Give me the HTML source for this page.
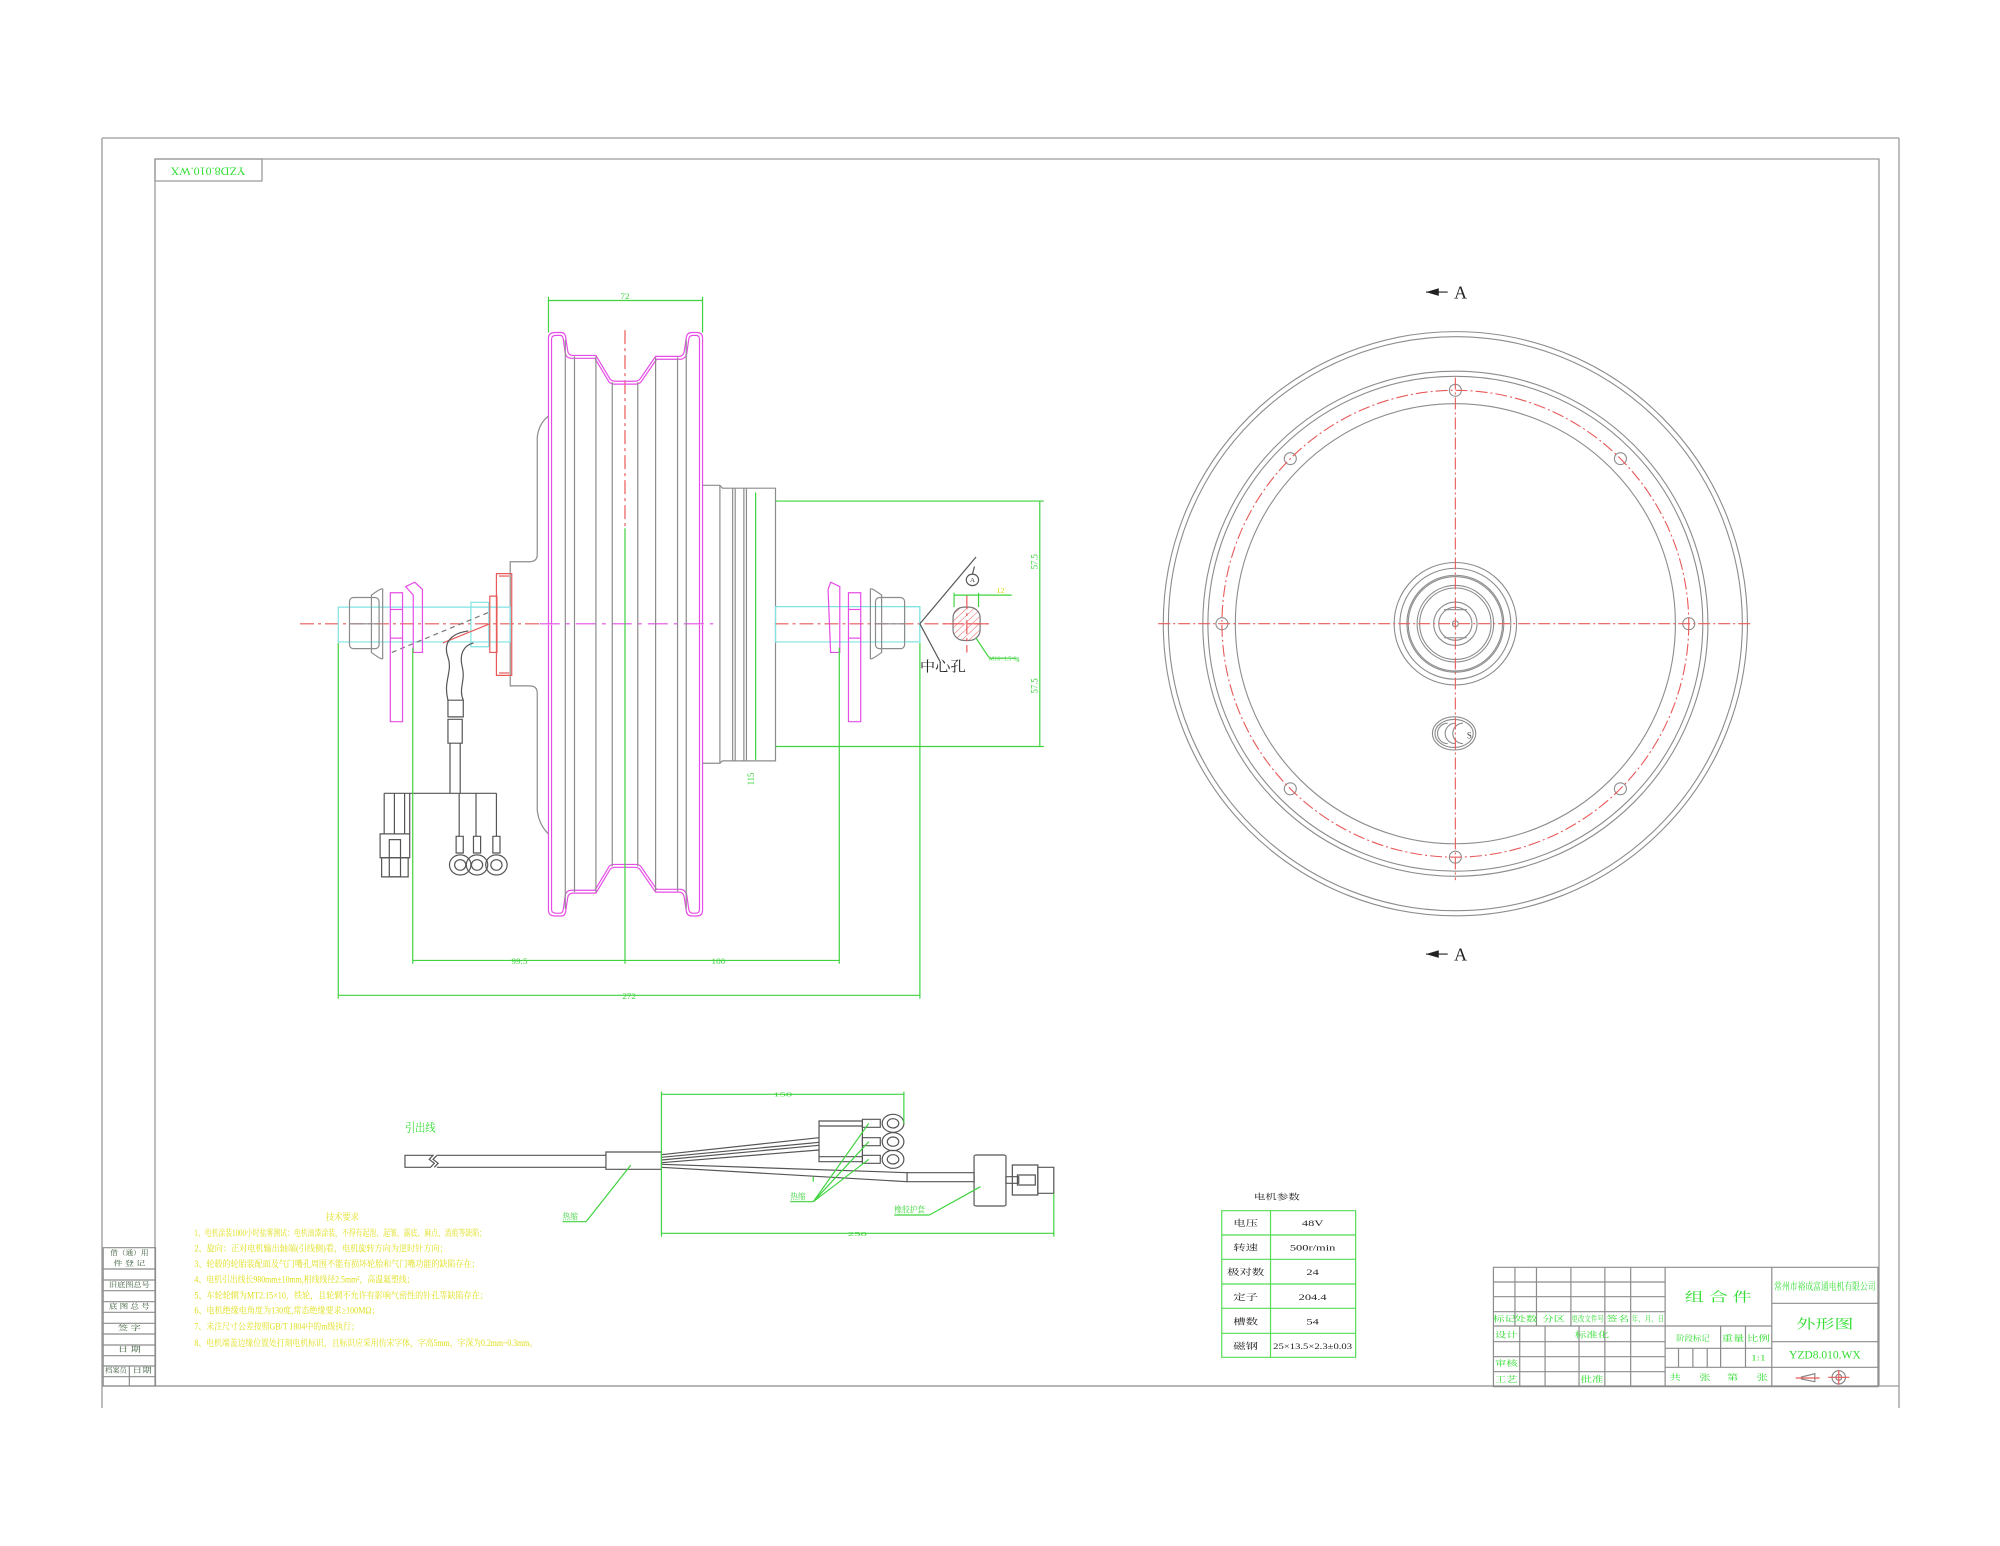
<!DOCTYPE html>
<html><head><meta charset="utf-8"><style>
html,body{margin:0;padding:0;background:#fff;}
svg{display:block;}
text{font-family:"Liberation Serif","Noto Serif CJK SC","Noto Sans CJK SC",serif;}
.g{stroke:#8c8c8c;fill:none;}
.m{stroke:#e64de6;fill:none;}
.c{stroke:#7fe3e3;fill:none;}
.d{stroke:#3fd33f;fill:none;}
.r{stroke:#e85a5a;fill:none;stroke-dasharray:14 4 3 4;}
.rs{stroke:#e85a5a;fill:none;}
.k{stroke:#555;fill:none;}
*{vector-effect:non-scaling-stroke;}
</style></head><body>
<svg width="2000" height="1546" viewBox="0 0 2000 1546" xmlns="http://www.w3.org/2000/svg">
<rect width="2000" height="1546" fill="#fff"/>
<g stroke="#9a9a9a" fill="none" stroke-width="1.3">
<line x1="102" y1="138" x2="1899" y2="138"/>
<line x1="102" y1="138" x2="102" y2="1408"/>
<line x1="1899" y1="138" x2="1899" y2="1408"/>
<line x1="102" y1="1386" x2="1899" y2="1386"/>
<rect x="155" y="159" width="1724" height="1227"/>
<rect x="155" y="159" width="107" height="22"/>
</g>
<text x="0" y="0" transform="translate(208,170) rotate(180)" font-size="12" fill="#33dd33" text-anchor="middle" dominant-baseline="middle">YZD8.010.WX</text>

<!-- LEFT VIEW -->
<g transform="translate(300,280) scale(0.5102,0.4775)" stroke-width="1.2">
<line class="r" x1="0" y1="720" x2="470" y2="720"/>
<line x1="470" y1="720" x2="810" y2="720" stroke="#e64de6" stroke-dasharray="20 6 4 6"/>
<line class="r" x1="930" y1="720" x2="1350" y2="720"/>
<line class="r" x1="637" y1="105" x2="637" y2="520"/>
<g id="rimtop">
<path class="m" d="M487,720 L487,122 Q487,110 500,110 L512,110 Q520,110 521,122 L525,150 Q527,158 535,158 L580,158 L608,208 Q612,212 618,212 L656,212 Q662,212 666,208 L697,160 L745,160 Q752,158 753,150 L757,122 Q758,110 768,110 L778,110 Q789,110 789,122 L789,720"/>
<path class="m" d="M493,720 L493,124 Q493,116 502,116 L510,116 Q515,116 516,124 L520,154 Q522,164 532,164 L578,164 L606,214 Q610,218 616,218 L658,218 Q664,218 668,214 L699,166 L747,166 Q756,164 758,154 L762,124 Q763,116 770,116 L776,116 Q783,116 783,124 L783,720"/>
</g>
<use href="#rimtop" transform="translate(0,1442) scale(1,-1)"/>
<g class="g">
<line x1="520" y1="125" x2="520" y2="1317"/>
<line x1="538" y1="160" x2="538" y2="1282"/>
<line x1="580" y1="160" x2="580" y2="1282"/>
<line x1="612" y1="214" x2="612" y2="1228"/>
<line x1="662" y1="214" x2="662" y2="1228"/>
<line x1="697" y1="162" x2="697" y2="1280"/>
<line x1="740" y1="162" x2="740" y2="1280"/>
<line x1="757" y1="125" x2="757" y2="1317"/>
<path d="M487,285 Q468,300 465,330 L465,575 Q465,590 450,590 L412,590 L412,850 L450,850 Q465,850 465,865 L465,1110 Q468,1140 487,1160"/>
<path d="M789,430 L823,430 L828,436 L932,436 L932,1007 L828,1007 L823,1012 L789,1012"/>
<line x1="823" y1="430" x2="823" y2="1012"/>
<line x1="848" y1="436" x2="848" y2="1007"/><line x1="853" y1="436" x2="853" y2="1007"/>
<line x1="870" y1="436" x2="870" y2="1007"/><line x1="875" y1="436" x2="875" y2="1007"/>
</g>
<rect class="c" x="75" y="685" width="337" height="73"/>
<rect class="c" x="335" y="675" width="35" height="93"/>
<rect class="c" x="932" y="684" width="283" height="74"/>
<rect class="c" x="1185" y="684" width="30" height="74"/>
<rect class="rs" x="385" y="615" width="30" height="213"/>
<rect class="rs" x="372" y="662" width="14" height="118"/>
<line class="rs" x1="390" y1="620" x2="410" y2="620"/><line class="rs" x1="390" y1="823" x2="410" y2="823"/>
<line x1="180" y1="780" x2="372" y2="695" stroke="#777" stroke-dasharray="5 4"/>
<line x1="280" y1="760" x2="372" y2="720" stroke="#e85a5a"/>
<rect class="g" x="97" y="665" width="58" height="107" rx="8"/>
<line class="g" x1="97" y1="720" x2="155" y2="720"/>
<path class="g" d="M140,660 Q165,640 162,650 L162,790 Q165,800 140,780 Z"/>
<rect class="m" x="177" y="655" width="24" height="270"/>
<line class="m" x1="177" y1="690" x2="201" y2="690"/><line class="m" x1="177" y1="750" x2="201" y2="750"/>
<path class="m" d="M207,642 L225,633 L240,648 L240,780 L222,780 L222,660 Z"/>
<path class="m" d="M1058,642 L1040,633 L1035,648 L1040,780 L1058,780 Z"/>
<rect class="m" x="1075" y="655" width="24" height="270"/>
<line class="m" x1="1075" y1="690" x2="1099" y2="690"/><line class="m" x1="1075" y1="750" x2="1099" y2="750"/>
<path class="g" d="M1140,660 Q1115,640 1118,650 L1118,790 Q1115,800 1140,780 Z"/>
<rect class="g" x="1128" y="665" width="57" height="107" rx="8"/>
<line class="g" x1="1128" y1="720" x2="1185" y2="720"/>
<g class="k">
<path d="M330,735 C295,740 280,760 290,790 C300,820 280,840 290,880"/>
<path d="M340,760 C320,765 312,785 318,810 C325,840 310,855 320,880"/>
<rect x="290" y="880" width="30" height="35"/>
<rect x="290" y="920" width="28" height="50"/>
<line x1="294" y1="970" x2="294" y2="1075"/><line x1="314" y1="970" x2="314" y2="1075"/>
<line x1="165" y1="1075" x2="385" y2="1075"/>
<line x1="165" y1="1075" x2="165" y2="1160"/><line x1="185" y1="1075" x2="185" y2="1160"/><line x1="205" y1="1075" x2="205" y2="1160"/><line x1="215" y1="1075" x2="215" y2="1160"/>
<rect x="157" y="1160" width="58" height="50"/>
<rect x="175" y="1172" width="22" height="78"/>
<rect x="160" y="1210" width="52" height="40"/>
<line x1="312" y1="1075" x2="312" y2="1165"/><line x1="345" y1="1075" x2="345" y2="1165"/><line x1="385" y1="1075" x2="385" y2="1165"/>
<rect x="306" y="1165" width="14" height="35"/><rect x="340" y="1165" width="14" height="35"/><rect x="378" y="1165" width="14" height="35"/>
<circle cx="314" cy="1225" r="21"/><circle cx="314" cy="1225" r="11"/>
<circle cx="347" cy="1225" r="21"/><circle cx="347" cy="1225" r="11"/>
<circle cx="385" cy="1225" r="21"/><circle cx="385" cy="1225" r="11"/>
</g>
<g class="k">
<line x1="1215" y1="720" x2="1325" y2="580"/>
<line x1="1215" y1="720" x2="1255" y2="800"/>
<circle cx="1318" cy="628" r="12"/>
<line x1="1318" y1="616" x2="1322" y2="600"/>
</g>
<text x="1318" y="633" font-size="14" text-anchor="middle" fill="#333">A</text>
<defs><pattern id="h" width="10" height="10" patternUnits="userSpaceOnUse" patternTransform="rotate(45)"><line x1="0" y1="0" x2="0" y2="10" stroke="#e85a5a" stroke-width="1"/></pattern></defs>
<rect x="1280" y="685" width="53" height="70" rx="22" fill="url(#h)" stroke="#777"/>
<line class="r" x1="1260" y1="720" x2="1350" y2="720"/>
<line class="r" x1="1307" y1="660" x2="1307" y2="780"/>
<text x="1215" y="820" font-size="30" fill="#222" font-family="Liberation Sans,Noto Sans CJK SC,sans-serif">中心孔</text>
<line x1="1282" y1="660" x2="1395" y2="660" stroke="#3fd33f"/>
<line x1="1282" y1="655" x2="1282" y2="685" stroke="#3fd33f"/><line x1="1330" y1="655" x2="1330" y2="685" stroke="#3fd33f"/>
<text x="1365" y="655" font-size="16" fill="#d8d800">12</text>
<line x1="1325" y1="750" x2="1350" y2="790" stroke="#3fd33f"/>
<line x1="1350" y1="792" x2="1405" y2="792" stroke="#3fd33f"/>
<text x="1350" y="797" font-size="12" fill="#3fd33f">M16×1.5-6g</text>
<g class="d">
<line x1="487" y1="43" x2="789" y2="43"/><line x1="487" y1="35" x2="487" y2="110"/><line x1="789" y1="35" x2="789" y2="110"/>
<line x1="932" y1="463" x2="1458" y2="463"/><line x1="932" y1="977" x2="1458" y2="977"/>
<line x1="1450" y1="463" x2="1450" y2="977"/>
<line x1="893" y1="445" x2="893" y2="1005"/>
<line x1="221" y1="1425" x2="1057" y2="1425"/>
<line x1="221" y1="770" x2="221" y2="1432"/><line x1="637" y1="520" x2="637" y2="1432"/><line x1="1057" y1="770" x2="1057" y2="1432"/>
<line x1="75" y1="1498" x2="1215" y2="1498"/>
<line x1="75" y1="760" x2="75" y2="1505"/><line x1="1215" y1="760" x2="1215" y2="1505"/>
</g>
<g fill="#3fd33f" font-size="18">
<text x="637" y="40" text-anchor="middle">72</text>
<text x="430" y="1432" text-anchor="middle">99.5</text>
<text x="820" y="1432" text-anchor="middle">100</text>
<text x="645" y="1506" text-anchor="middle">272</text>
<text transform="translate(1446,590) rotate(-90)" text-anchor="middle">57.5</text>
<text transform="translate(1446,850) rotate(-90)" text-anchor="middle">57.5</text>
<text transform="translate(890,1045) rotate(-90)" text-anchor="middle">115</text>
</g>
</g>

<!-- RIGHT VIEW -->
<g transform="scale(1.27551)" stroke-width="1.1">
<g class="g">
<circle cx="1141" cy="489" r="229"/><circle cx="1141" cy="489" r="225"/>
<circle cx="1141" cy="489" r="198"/><circle cx="1141" cy="489" r="194"/>
<circle cx="1141" cy="489" r="172.5"/>
<circle cx="1141" cy="489" r="48"/><circle cx="1141" cy="489" r="43.5"/>
<circle cx="1141" cy="489" r="38"/><circle cx="1141" cy="489" r="37"/>
<circle cx="1141" cy="489" r="30"/><circle cx="1141" cy="489" r="28"/>
<circle cx="1141" cy="489" r="17"/><circle cx="1141" cy="489" r="13"/>
<circle cx="1141" cy="489" r="2.3"/>
<line x1="1132" y1="478" x2="1150" y2="478"/><line x1="1132" y1="500" x2="1150" y2="500"/>
<circle cx="1141" cy="306" r="4.7"/><circle cx="1141" cy="672" r="4.7"/>
<circle cx="958" cy="489" r="4.7"/><circle cx="1324" cy="489" r="4.7"/>
<circle cx="1011.6" cy="359.6" r="4.7"/><circle cx="1270.4" cy="359.6" r="4.7"/>
<circle cx="1011.6" cy="618.4" r="4.7"/><circle cx="1270.4" cy="618.4" r="4.7"/>
<ellipse cx="1140" cy="575" rx="17" ry="13"/><ellipse cx="1140" cy="575" rx="15" ry="11"/>
<path d="M1135,567 A8,8 0 0 0 1135,583"/><path d="M1141,567 A8,8 0 0 0 1141,583"/><path d="M1147,567 A8,8 0 0 0 1147,583"/>
</g>
<text x="1150" y="579" font-size="7" fill="#444">S</text>
<circle class="r" cx="1141" cy="489" r="183" style="stroke-dasharray:12 3 2 3"/>
<line class="r" x1="908" y1="489" x2="1373" y2="489" style="stroke-dasharray:12 3 2 3"/>
<line class="r" x1="1141" y1="296" x2="1141" y2="690" style="stroke-dasharray:12 3 2 3"/>
<polygon points="1118,229 1128,226 1128,232" fill="#222"/><line x1="1118" y1="229" x2="1135" y2="229" stroke="#222"/>
<text x="1140" y="234" font-size="14" fill="#222">A</text>
<polygon points="1118,748 1128,745 1128,751" fill="#222"/><line x1="1118" y1="748" x2="1135" y2="748" stroke="#222"/>
<text x="1140" y="753" font-size="14" fill="#222">A</text>
</g>

<!-- BOTTOM LEFT -->
<g transform="translate(100,1080) scale(0.638,0.33333)" stroke-width="1.2">
<text x="478" y="155" font-size="34" fill="#33dd33" textLength="48" lengthAdjust="spacingAndGlyphs">引出线</text>
<g class="k">
<path d="M478,226 L522,226 L516,238 L524,250 L518,262 L478,262 Z"/>
<path d="M528,226 L793,226 M528,262 L793,262 M528,226 L522,238 L530,250 L524,262"/>
<rect x="793" y="216" width="87" height="52"/>
<line x1="880" y1="224" x2="1127" y2="173"/><line x1="880" y1="232" x2="1127" y2="187"/>
<line x1="880" y1="240" x2="1127" y2="196"/><line x1="880" y1="248" x2="1127" y2="210"/>
<line x1="880" y1="253" x2="1265" y2="278"/><line x1="880" y1="262" x2="1265" y2="305"/>
<rect x="1127" y="123" width="68" height="122"/>
<line x1="1127" y1="138" x2="1195" y2="138"/><line x1="1127" y1="230" x2="1195" y2="230"/>
<rect x="1195" y="118" width="28" height="24"/><rect x="1195" y="173" width="28" height="24"/><rect x="1195" y="226" width="28" height="24"/>
<ellipse cx="1243" cy="130" rx="17" ry="27"/><ellipse cx="1243" cy="130" rx="9" ry="14"/>
<ellipse cx="1243" cy="185" rx="17" ry="27"/><ellipse cx="1243" cy="185" rx="9" ry="14"/>
<ellipse cx="1243" cy="238" rx="17" ry="27"/><ellipse cx="1243" cy="238" rx="9" ry="14"/>
<rect x="1265" y="278" width="105" height="27"/>
<rect x="1370" y="225" width="50" height="153" rx="4"/>
<rect x="1420" y="290" width="20" height="20"/>
<rect x="1430" y="255" width="40" height="90"/>
<rect x="1438" y="285" width="28" height="30"/>
<rect x="1470" y="262" width="25" height="78"/>
</g>
<g class="d">
<line x1="880" y1="43" x2="1260" y2="43"/><line x1="880" y1="35" x2="880" y2="470"/><line x1="1260" y1="35" x2="1260" y2="130"/>
<line x1="880" y1="460" x2="1495" y2="460"/><line x1="1495" y1="340" x2="1495" y2="470"/>
<line x1="725" y1="425" x2="762" y2="425"/><line x1="762" y1="425" x2="832" y2="255"/>
<line x1="1082" y1="365" x2="1118" y2="365"/><line x1="1118" y1="365" x2="1205" y2="130"/><line x1="1118" y1="365" x2="1205" y2="185"/><line x1="1118" y1="365" x2="1205" y2="238"/>
<line x1="1118" y1="290" x2="1118" y2="305"/>
<line x1="1245" y1="405" x2="1300" y2="405"/><line x1="1300" y1="405" x2="1380" y2="320"/>
</g>
<g fill="#3fd33f" font-size="20">
<text x="1070" y="50" text-anchor="middle">150</text>
<text x="1187" y="468" text-anchor="middle">250</text>
<text x="725" y="418" font-size="26" textLength="24" lengthAdjust="spacingAndGlyphs">热缩</text>
<text x="1082" y="358" font-size="26" textLength="24" lengthAdjust="spacingAndGlyphs">热缩</text>
<text x="1245" y="398" font-size="26" textLength="48" lengthAdjust="spacingAndGlyphs">橡胶护套</text>
</g>
<g fill="#dede1a" font-size="28">
<text x="380" y="420" text-anchor="middle" fill="#e0e020" textLength="52" lengthAdjust="spacingAndGlyphs">技术要求</text>
<text x="148" y="468" textLength="457" lengthAdjust="spacingAndGlyphs">1、电机涂装1000小时盐雾测试：电机油漆涂装，不得有起泡、起皱、露底、麻点、流痕等缺陷；</text>
<text x="148" y="515" textLength="397" lengthAdjust="spacingAndGlyphs">2、旋向：正对电机输出轴端(引线侧)看，电机旋转方向为逆时针方向；</text>
<text x="148" y="561" textLength="447" lengthAdjust="spacingAndGlyphs">3、轮毂的轮胎装配面及气门嘴孔周围不能有损坏轮胎和气门嘴功能的缺陷存在；</text>
<text x="148" y="608" textLength="345" lengthAdjust="spacingAndGlyphs">4、电机引出线长980mm±10mm,相线线径2.5mm²，高温氟塑线；</text>
<text x="148" y="655" textLength="460" lengthAdjust="spacingAndGlyphs">5、车轮轮辋为MT2.15×10，铁轮，且轮辋不允许有影响气密性的针孔等缺陷存在；</text>
<text x="148" y="701" textLength="290" lengthAdjust="spacingAndGlyphs">6、电机绝缘电角度为130度,常态绝缘要求≥100MΩ；</text>
<text x="148" y="748" textLength="258" lengthAdjust="spacingAndGlyphs">7、未注尺寸公差按照GB/T 1804中的m级执行；</text>
<text x="148" y="798" textLength="537" lengthAdjust="spacingAndGlyphs">8、电机端盖边缘位置处打刻电机标识，且标识应采用仿宋字体，字高5mm，字深为0.2mm~0.3mm。</text>
</g>
<g stroke="#8c8c8c" fill="none">
<rect x="5" y="503" width="82" height="415"/>
<line x1="5" y1="567" x2="87" y2="567"/><line x1="5" y1="600" x2="87" y2="600"/><line x1="5" y1="632" x2="87" y2="632"/>
<line x1="5" y1="665" x2="87" y2="665"/><line x1="5" y1="697" x2="87" y2="697"/><line x1="5" y1="730" x2="87" y2="730"/>
<line x1="5" y1="762" x2="87" y2="762"/><line x1="5" y1="795" x2="87" y2="795"/><line x1="5" y1="827" x2="87" y2="827"/>
<line x1="5" y1="858" x2="87" y2="858"/><line x1="5" y1="890" x2="87" y2="890"/><line x1="46" y1="858" x2="46" y2="918"/>
</g>
<g fill="#3a5a3a" font-size="20" text-anchor="middle">
<text x="46" y="525" textLength="60" lengthAdjust="spacingAndGlyphs">借（通）用</text><text x="46" y="557" textLength="50" lengthAdjust="spacingAndGlyphs">件 登 记</text>
<text x="46" y="621" textLength="64" lengthAdjust="spacingAndGlyphs">旧底图总号</text><text x="46" y="686" textLength="64" lengthAdjust="spacingAndGlyphs">底 图 总 号</text>
<text x="46" y="750" textLength="36" lengthAdjust="spacingAndGlyphs">签 字</text><text x="46" y="814" textLength="36" lengthAdjust="spacingAndGlyphs">日 期</text>
<text x="25" y="878" textLength="34" lengthAdjust="spacingAndGlyphs">档案员</text><text x="66" y="878" textLength="30" lengthAdjust="spacingAndGlyphs">日期</text>
</g>
</g>

<!-- BOTTOM RIGHT -->
<g transform="translate(1150,1180) scale(0.4783,0.33333)" stroke-width="1.2">
<text x="265" y="58" font-size="24" text-anchor="middle" fill="#222">电机参数</text>
<g stroke="#55dd55" fill="none">
<rect x="150" y="92" width="280" height="440"/>
<line x1="252" y1="92" x2="252" y2="532"/>
<line x1="150" y1="165" x2="430" y2="165"/><line x1="150" y1="238" x2="430" y2="238"/><line x1="150" y1="312" x2="430" y2="312"/>
<line x1="150" y1="385" x2="430" y2="385"/><line x1="150" y1="460" x2="430" y2="460"/>
</g>
<g fill="#222" font-size="26" text-anchor="middle">
<text x="200" y="138">电压</text><text x="340" y="138">48V</text>
<text x="200" y="212">转速</text><text x="340" y="212">500r/min</text>
<text x="200" y="285">极对数</text><text x="340" y="285">24</text>
<text x="200" y="360">定子</text><text x="340" y="360">204.4</text>
<text x="200" y="433">槽数</text><text x="340" y="433">54</text>
<text x="200" y="507">磁钢</text><text x="340" y="507" textLength="165" lengthAdjust="spacingAndGlyphs">25×13.5×2.3±0.03</text>
</g>
<g stroke="#8c8c8c" fill="none">
<rect x="718" y="262" width="804" height="358"/>
<line x1="718" y1="306" x2="1077" y2="306"/><line x1="718" y1="350" x2="1077" y2="350"/><line x1="718" y1="395" x2="1077" y2="395"/>
<line x1="718" y1="438" x2="1300" y2="438"/><line x1="718" y1="485" x2="1077" y2="485"/><line x1="718" y1="530" x2="1077" y2="530"/><line x1="718" y1="575" x2="1077" y2="575"/>
<line x1="763" y1="262" x2="763" y2="438"/><line x1="808" y1="262" x2="808" y2="438"/><line x1="880" y1="262" x2="880" y2="438"/>
<line x1="951" y1="262" x2="951" y2="620"/><line x1="1005" y1="262" x2="1005" y2="620"/><line x1="1077" y1="262" x2="1077" y2="620"/>
<line x1="773" y1="438" x2="773" y2="620"/><line x1="826" y1="438" x2="826" y2="620"/><line x1="897" y1="438" x2="897" y2="620"/>
<line x1="1077" y1="505" x2="1300" y2="505"/><line x1="1077" y1="562" x2="1522" y2="562"/>
<line x1="1193" y1="438" x2="1193" y2="562"/><line x1="1245" y1="438" x2="1245" y2="562"/>
<line x1="1105" y1="505" x2="1105" y2="562"/><line x1="1135" y1="505" x2="1135" y2="562"/><line x1="1165" y1="505" x2="1165" y2="562"/>
<line x1="1300" y1="262" x2="1300" y2="620"/>
<line x1="1300" y1="370" x2="1522" y2="370"/><line x1="1300" y1="485" x2="1522" y2="485"/>
</g>
<g fill="#33dd33" font-size="24" text-anchor="middle">
<text x="741" y="425">标记</text><text x="786" y="425">处数</text><text x="844" y="425">分区</text><text x="915" y="425" textLength="68" lengthAdjust="spacingAndGlyphs">更改文件号</text><text x="978" y="425">签名</text><text x="1041" y="425" textLength="68" lengthAdjust="spacingAndGlyphs">年、月、日</text>
<text x="745" y="472">设计</text><text x="924" y="472">标准化</text>
<text x="745" y="558">审核</text><text x="745" y="606">工艺</text><text x="924" y="606">批准</text>
<text x="1188" y="365" font-size="40">组 合 件</text>
<text x="1135" y="483" textLength="70" lengthAdjust="spacingAndGlyphs">阶段标记</text><text x="1219" y="483">重量</text><text x="1272" y="483">比例</text>
<text x="1272" y="542">1:1</text>
<text x="1098" y="600">共</text><text x="1160" y="600">张</text><text x="1218" y="600">第</text><text x="1280" y="600">张</text>
<text x="1411" y="330" font-size="30" textLength="212" lengthAdjust="spacingAndGlyphs">常州市裕成富通电机有限公司</text>
<text x="1411" y="445" font-size="40">外形图</text>
<text x="1411" y="535" font-size="36" textLength="150" lengthAdjust="spacingAndGlyphs">YZD8.010.WX</text>
</g>
<g stroke="#888" fill="none">
<path d="M1362,591 L1390,581 L1390,605 L1362,597 Z"/>
<ellipse cx="1440" cy="592" rx="14" ry="20"/><ellipse cx="1440" cy="592" rx="6" ry="9"/>
</g>
<g stroke="#e85a5a" fill="none">
<line x1="1350" y1="594" x2="1400" y2="594"/><line x1="1418" y1="592" x2="1462" y2="592"/><line x1="1440" y1="570" x2="1440" y2="614"/>
</g>
</g>
</svg>
</body></html>
